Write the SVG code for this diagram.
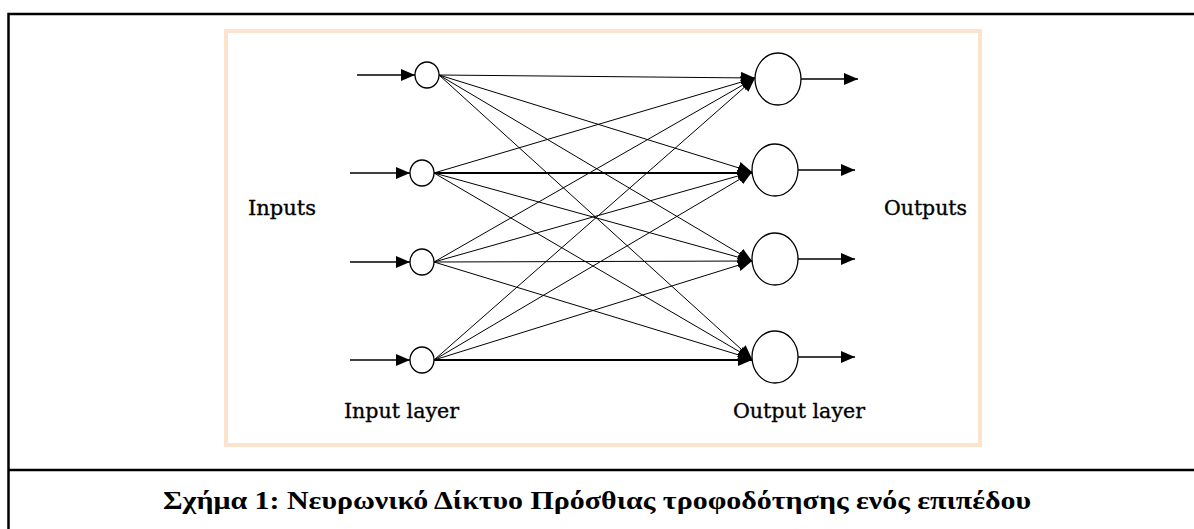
<svg xmlns="http://www.w3.org/2000/svg" width="1194" height="529" viewBox="0 0 1194 529">
  <defs>
    <marker id="arrow" viewBox="0 0 14 12" refX="14" refY="6" markerWidth="14" markerHeight="12" markerUnits="userSpaceOnUse" orient="auto">
      <path d="M0,0 L14,6 L0,12 z" fill="#000"/>
    </marker>
    <style>
      .frame { fill: none; stroke: #000; stroke-width: 2.5; }
      .panel { fill: #fff; stroke: #fce3cb; stroke-width: 4; }
      .node { fill: #fff; stroke: #000; stroke-width: 1.3; }
      .edge { fill: none; stroke: #000; stroke-width: 1; marker-end: url(#arrow); }
      .edge.thick { stroke-width: 1.8; }
      .io { fill: none; stroke: #000; stroke-width: 1.5; marker-end: url(#arrow); }
      .label { font-family: "DejaVu Serif", "Liberation Serif", serif; font-size: 20px; fill: #000; stroke: #000; stroke-width: 0.35; }
      .caption { font-family: "Liberation Serif", "Times New Roman", serif; font-size: 25px; font-weight: bold; fill: #000; }
    </style>
  </defs>

  <rect width="1194" height="529" fill="#fff"/>

  <!-- table frame around figure and caption -->
  <g id="frame">
    <path class="frame" d="M8.5,529 V14 H1194"/>
    <path class="frame" d="M8.5,470 H1194"/>
  </g>

  <!-- figure panel -->
  <rect id="panel" class="panel" x="226" y="31" width="754" height="414"/>

  <!-- weighted connections, input layer to output layer -->
  <g id="connectors">
    <path class="edge" d="M439,75 L755,78"/>
    <path class="edge" d="M439,75 L752,172"/>
    <path class="edge" d="M439,75 L752,261"/>
    <path class="edge" d="M439,75 L752,359"/>

    <path class="edge" d="M434,173 L755,78"/>
    <path class="edge thick" d="M434,173 L752,173"/>
    <path class="edge" d="M434,173 L752,261"/>
    <path class="edge" d="M434,173 L752,359"/>

    <path class="edge" d="M434,262 L755,78"/>
    <path class="edge" d="M434,262 L752,172"/>
    <path class="edge" d="M434,262 L752,261"/>
    <path class="edge" d="M434,262 L752,359"/>

    <path class="edge" d="M434,360 L755,78"/>
    <path class="edge" d="M434,360 L752,172"/>
    <path class="edge" d="M434,360 L752,261"/>
    <path class="edge thick" d="M434,360 L752,360"/>

    <!-- external inputs -->
    <path class="io" d="M357,75 L415,75"/>
    <path class="io" d="M350,173 L410,173"/>
    <path class="io" d="M350,262 L410,262"/>
    <path class="io" d="M350,360 L410,360"/>

    <!-- external outputs -->
    <path class="io" d="M801,79 L858,79"/>
    <path class="io" d="M798,170 L855,170"/>
    <path class="io" d="M798,259 L855,259"/>
    <path class="io" d="M798,357 L855,357"/>
  </g>

  <!-- input layer -->
  <g id="in1"><ellipse class="node" cx="427" cy="75" rx="12" ry="13"/></g>
  <g id="in2"><ellipse class="node" cx="422" cy="173" rx="12" ry="13"/></g>
  <g id="in3"><ellipse class="node" cx="422" cy="262" rx="12" ry="13"/></g>
  <g id="in4"><ellipse class="node" cx="422" cy="360" rx="12" ry="13"/></g>

  <!-- output layer -->
  <g id="out1"><ellipse class="node" cx="778" cy="79" rx="23" ry="26"/></g>
  <g id="out2"><ellipse class="node" cx="775" cy="170" rx="23" ry="26"/></g>
  <g id="out3"><ellipse class="node" cx="775" cy="259" rx="23" ry="26"/></g>
  <g id="out4"><ellipse class="node" cx="775" cy="357" rx="23" ry="26"/></g>

  <!-- labels -->
  <g id="labels">
    <text class="label" x="248" y="215" textLength="68" lengthAdjust="spacingAndGlyphs">Inputs</text>
    <text class="label" x="884" y="215" textLength="83" lengthAdjust="spacingAndGlyphs">Outputs</text>
    <text class="label" x="344" y="418" textLength="115" lengthAdjust="spacingAndGlyphs">Input layer</text>
    <text class="label" x="733" y="418" textLength="132" lengthAdjust="spacingAndGlyphs">Output layer</text>
  </g>

  <!-- caption -->
  <text id="caption" class="caption" x="597" y="509" text-anchor="middle" textLength="868" lengthAdjust="spacingAndGlyphs">Σχήμα 1: Νευρωνικό Δίκτυο Πρόσθιας τροφοδότησης ενός επιπέδου</text>
</svg>
